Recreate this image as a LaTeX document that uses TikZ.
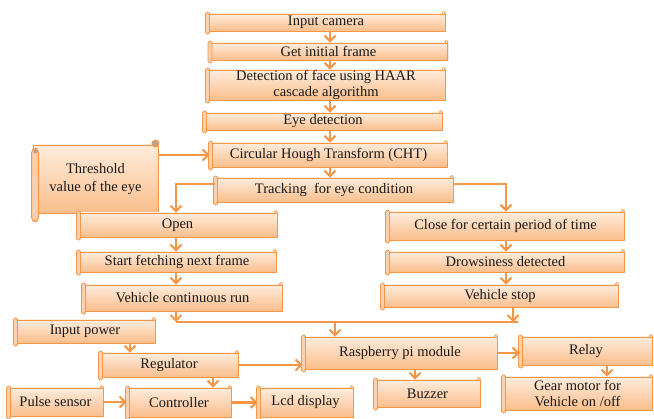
\documentclass[tikz,border=0pt]{standalone}
\usepackage{fontspec}
\setmainfont{Liberation Serif}
\usetikzlibrary{arrows.meta,shadows,calc}
\definecolor{ob}{RGB}{247,150,70}
\definecolor{btop}{RGB}{254,236,220}
\definecolor{bbot}{RGB}{250,190,140}
\definecolor{curlg}{RGB}{175,165,155}
\begin{document}
\begin{tikzpicture}[x=1pt,y=-1pt,
  box/.style={draw=ob, line width=0.9pt, top color=btop, bottom color=bbot,
    inner sep=0pt, align=center, font=\fontsize{14.5}{16}\selectfont, text=black!90,
    drop shadow={opacity=0.18, shadow xshift=1.2pt, shadow yshift=-1.2pt}},
  arr/.style={draw=ob, line width=2.1pt, -{Straight Barb[length=5.5pt,width=11pt]}},
  ln/.style={draw=ob, line width=2.1pt}]
\useasboundingbox (0,0) rectangle (654,419);

% nodes
\node[box, minimum width=238pt, minimum height=17pt] (cam)   at (326,22.5) {Input camera};
\node[box, minimum width=238pt, minimum height=17pt] (frame) at (328.5,51.5) {Get initial frame};
\node[box, minimum width=238pt, minimum height=30pt] (face)  at (326,85) {Detection of face using HAAR\\cascade algorithm};
\node[box, minimum width=238pt, minimum height=17pt] (eye)   at (323,121.5) {Eye detection};
\node[box, minimum width=237pt, minimum height=24pt] (cht)   at (328.5,155) {Circular Hough Transform (CHT)};
\node[box, minimum width=125pt, minimum height=68pt, font=\fontsize{14.5}{18}\selectfont] (thr) at (95.5,179) {Threshold\\value of the eye};
\node[box, minimum width=238pt, minimum height=24pt] (track) at (334,190) {Tracking \ for eye condition};
\node[box, minimum width=199pt, minimum height=24pt] (open)  at (177.5,225) {Open};
\node[box, minimum width=237pt, minimum height=28pt] (close) at (505.5,226) {Close for certain period of time};
\node[box, minimum width=198pt, minimum height=20pt] (fetch) at (177,262) {Start fetching next frame};
\node[box, minimum width=237pt, minimum height=20pt] (drow)  at (505.5,262) {Drowsiness detected};
\node[box, minimum width=199pt, minimum height=26pt] (run)   at (182.5,298) {Vehicle continuous run};
\node[box, minimum width=236pt, minimum height=22pt] (stop)  at (500,296) {Vehicle stop};
\node[box, minimum width=140pt, minimum height=23pt] (power) at (85,331.5) {Input power};
\node[box, minimum width=138pt, minimum height=24pt] (reg)   at (169,365) {Regulator};
\node[box, minimum width=194pt, minimum height=32pt] (rpi)   at (400,353) {Raspberry pi module};
\node[box, minimum width=132pt, minimum height=28pt] (relay) at (586,351) {Relay};
\node[box, minimum width=95pt, minimum height=28pt]  (pulse) at (55.5,402) {Pulse sensor};
\node[box, minimum width=104pt, minimum height=29pt] (ctrl)  at (179,402.5) {Controller};
\node[box, minimum width=95pt, minimum height=29pt]  (lcd)   at (305.5,402.5) {Lcd display};
\node[box, minimum width=105pt, minimum height=27pt] (buzz)  at (427.5,393.5) {Buzzer};
\node[box, minimum width=149pt, minimum height=33pt] (gear)  at (577.5,393.5) {Gear motor for\\Vehicle on /off};

% scroll curls
\foreach \n in {cam,frame,face,eye,cht,track,open,close,fetch,drow,run,stop,power,reg,rpi,relay,pulse,ctrl,lcd,buzz,gear}{
  \filldraw[draw=ob, line width=0.8pt, fill=bbot!60!btop, rounded corners=1.5pt]
    ([xshift=-1pt,yshift=1.5pt]\n.north west) rectangle ([xshift=3pt,yshift=-2.5pt]\n.south west);
  \filldraw[draw=ob, line width=0.6pt, fill=btop] ([xshift=-1.5pt,yshift=0.5pt]\n.north east) circle (1.6pt);
}
\filldraw[draw=ob, line width=0.9pt, fill=bbot!60!btop, rounded corners=4pt]
  ([xshift=-1pt,yshift=-4pt]thr.north west) rectangle ([xshift=6pt,yshift=-8pt]thr.south west);
\fill[curlg] ([xshift=3pt,yshift=-7pt]thr.north west) circle (2.2pt);
\filldraw[draw=ob, line width=0.9pt, fill=curlg] ([xshift=-3pt,yshift=1pt]thr.north east) circle (3.5pt);

% axes
\coordinate (axC) at (330,0);
\coordinate (axL) at (176,0);
\coordinate (axR) at (506,0);
\coordinate (axP) at (130,0);
\coordinate (axG) at (213,0);
\coordinate (axB) at (415,0);
\coordinate (axY) at (607,0);
\coordinate (mL) at (176,322);
\coordinate (mS) at (513,322);
\coordinate (mR) at (518,322);
\coordinate (mM) at (335,322);

% connectors
\draw[arr] (cam.south -| axC) -- (frame.north -| axC);
\draw[arr] (frame.south -| axC) -- (face.north -| axC);
\draw[arr] (face.south -| axC) -- (eye.north -| axC);
\draw[arr] (eye.south -| axC) -- (cht.north -| axC);
\draw[arr] (cht.south -| axC) -- (track.north -| axC);
\draw[arr] (thr.east |- cht.west) -- (cht.west);
\draw[arr] ([yshift=6pt]track.west) -| (open.north -| axL);
\draw[arr] ([yshift=6pt]track.east) -| (close.north -| axR);
\draw[arr] (open.south -| axL) -- (fetch.north -| axL);
\draw[arr] (fetch.south -| axL) -- (run.north -| axL);
\draw[arr] (close.south -| axR) -- (drow.north -| axR);
\draw[arr] (drow.south -| axR) -- (stop.north -| axR);
\draw[ln] (mL) -- (mR);
\draw[arr] (run.south -| mL) -- (mL);
\draw[arr] (stop.south -| mS) -- (mS);
\draw[arr] (mM) -- (mM |- rpi.north);
\draw[arr] (power.south -| axP) -- (reg.north -| axP);
\draw[arr] (reg.east) -- (rpi.west |- reg.east);
\draw[arr] (reg.south -| axG) -- (ctrl.north -| axG);
\draw[arr] (pulse.east) -- (ctrl.west |- pulse.east);
\draw[arr] (ctrl.east) -- (lcd.west |- ctrl.east);
\draw[arr] (rpi.south -| axB) -- (buzz.north -| axB);
\draw[arr] (rpi.east) -- (relay.west |- rpi.east);
\draw[arr] (relay.south -| axY) -- (gear.north -| axY);
\end{tikzpicture}
\end{document}
